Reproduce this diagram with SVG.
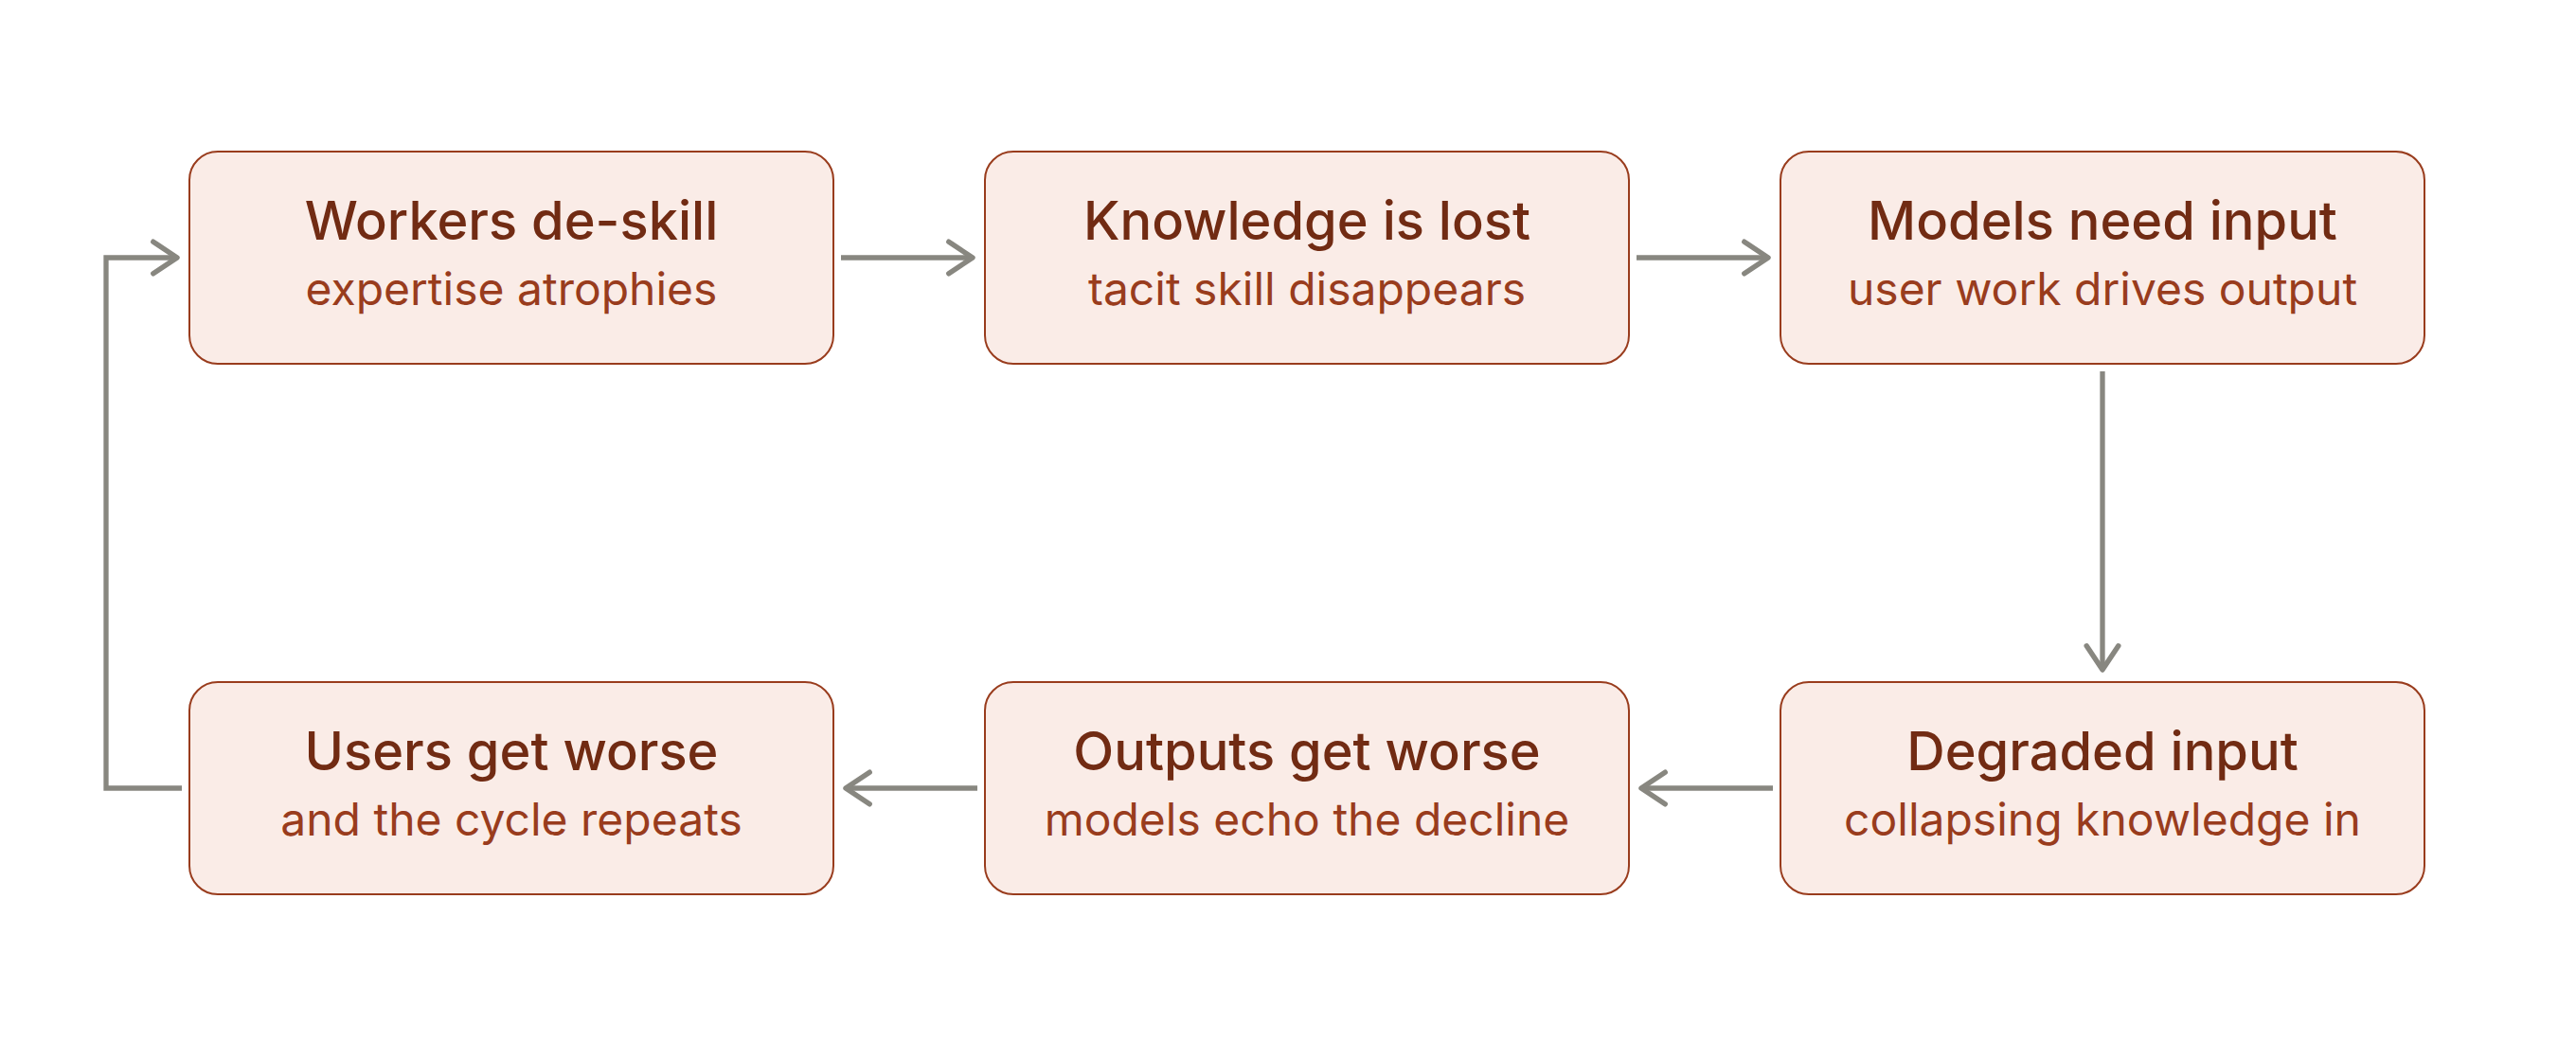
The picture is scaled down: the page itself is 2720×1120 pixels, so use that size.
<svg xmlns="http://www.w3.org/2000/svg" width="2720" height="1120" viewBox="0 0 2720 1120">
<defs>
<marker id="arr" markerUnits="userSpaceOnUse" viewBox="0 0 10 10" markerWidth="42" markerHeight="42" refX="8" refY="5" orient="auto">
<path d="M2 1L8 5L2 9" fill="none" stroke="#888780" stroke-width="1.3" stroke-linecap="round" stroke-linejoin="round"/>
</marker>
<style>
.box{fill:#FAECE7;stroke:#993C1D;stroke-width:2}
.t{font-family:Inter,"Noto Sans","Liberation Sans",sans-serif;font-size:56px;font-weight:500;fill:#712B13;text-anchor:middle}
.s{font-family:Inter,"Noto Sans","Liberation Sans",sans-serif;font-size:48px;font-weight:400;fill:#993C1D;text-anchor:middle}
.c{fill:none;stroke:#888780;stroke-width:5.3;marker-end:url(#arr)}
</style>
</defs>
<rect width="2720" height="1120" fill="#ffffff"/>
<g id="connectors">
<path class="c" d="M888 272H1027"/>
<path class="c" d="M1728 272H1867"/>
<path class="c" d="M2220 392V707"/>
<path class="c" d="M1872 832H1733"/>
<path class="c" d="M1032 832H893"/>
<path class="c" d="M192 832H112V272H187"/>
</g>
<g id="workers-deskill">
<rect class="box" x="200" y="160" width="680" height="224" rx="30"/>
<text class="t" x="540" y="253">Workers de-skill</text>
<text class="s" x="540" y="322">expertise atrophies</text>
</g>
<g id="knowledge-lost">
<rect class="box" x="1040" y="160" width="680" height="224" rx="30"/>
<text class="t" x="1380" y="253">Knowledge is lost</text>
<text class="s" x="1380" y="322">tacit skill disappears</text>
</g>
<g id="models-need-input">
<rect class="box" x="1880" y="160" width="680" height="224" rx="30"/>
<text class="t" x="2220" y="253">Models need input</text>
<text class="s" x="2220" y="322">user work drives output</text>
</g>
<g id="degraded-input">
<rect class="box" x="1880" y="720" width="680" height="224" rx="30"/>
<text class="t" x="2220" y="813">Degraded input</text>
<text class="s" x="2220" y="882">collapsing knowledge in</text>
</g>
<g id="outputs-worse">
<rect class="box" x="1040" y="720" width="680" height="224" rx="30"/>
<text class="t" x="1380" y="813">Outputs get worse</text>
<text class="s" x="1380" y="882">models echo the decline</text>
</g>
<g id="users-worse">
<rect class="box" x="200" y="720" width="680" height="224" rx="30"/>
<text class="t" x="540" y="813">Users get worse</text>
<text class="s" x="540" y="882">and the cycle repeats</text>
</g>
</svg>
